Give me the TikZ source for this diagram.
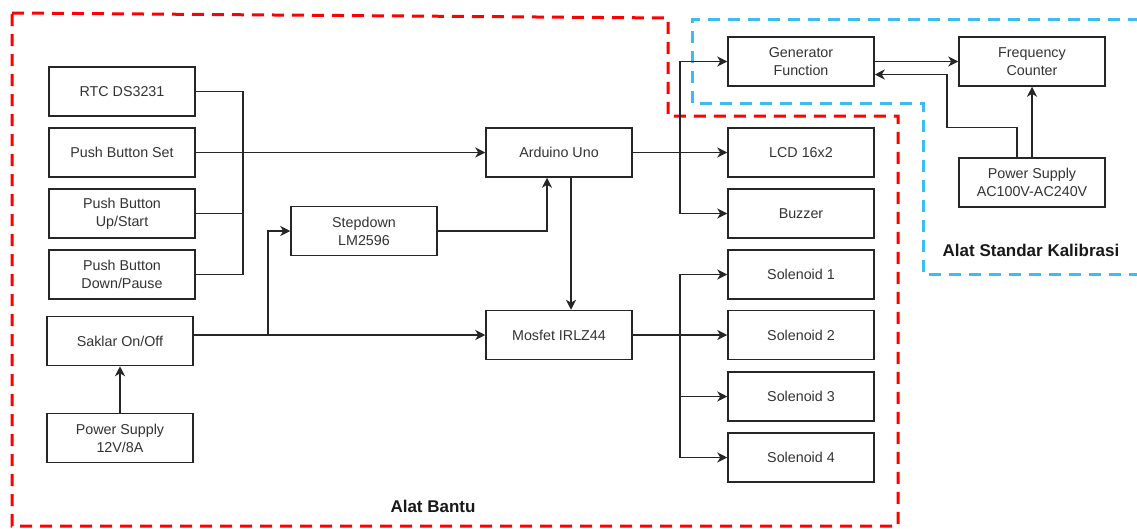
\documentclass[tikz,border=0pt]{standalone}
\usepackage{fontspec}
\setmainfont{Liberation Sans}
\usetikzlibrary{arrows.meta}
\definecolor{zonered}{HTML}{FF0000}
\definecolor{zoneblue}{HTML}{3CBDF0}

\begin{document}
\begin{tikzpicture}[x=1pt,y=-1pt,
    box/.style={draw=black!85,line width=1.5pt,fill=white,minimum width=146pt,minimum height=49pt,
        inner sep=0pt,align=center,text=black!80,font=\fontsize{14.3}{18}\selectfont},
    wire/.style={draw=black!85,line width=1.5pt},
    arr/.style={wire,-{Stealth[length=10pt,width=10pt,inset=3pt]}},
    zone/.style={line width=3pt,dash pattern=on 12pt off 8pt},
    zonelabel/.style={font=\fontsize{17}{20}\selectfont\bfseries,text=black!90}]
        \useasboundingbox (0,0) rectangle (1137,528);
        \draw[zone,zoneblue] (1140,19) -- (692,19) -- (692,103) -- (923,103) -- (923,274) -- (1140,274);
        \draw[zone,zonered] (12,13) -- (668,18) -- (668,116) -- (898,116) -- (898,526) -- (12,526) -- cycle;
        \node[box] (rtc) at (122,91.5) {RTC DS3231};
        \node[box] (pbset) at (122,152.5) {Push Button Set};
        \node[box] (pbup) at (122,213.5) {Push Button\\Up/Start};
        \node[box] (pbdown) at (122,274.5) {Push Button\\Down/Pause};
        \node[box] (saklar) at (120,341) {Saklar On/Off};
        \node[box] (psdc) at (120,438) {Power Supply\\12V/8A};
        \node[box] (stepdown) at (364,231) {Stepdown\\LM2596};
        \node[box] (arduino) at (559,152.5) {Arduino Uno};
        \node[box] (mosfet) at (559,335) {Mosfet IRLZ44};
        \node[box] (genfunc) at (801,61.5) {Generator\\Function};
        \node[box] (freqcount) at (1032,61.5) {Frequency\\Counter};
        \node[box] (lcd) at (801,152.5) {LCD 16x2};
        \node[box] (buzzer) at (801,213.5) {Buzzer};
        \node[box] (psac) at (1032,182.5) {Power Supply\\AC100V-AC240V};
        \node[box] (sol1) at (801,274.5) {Solenoid 1};
        \node[box] (sol2) at (801,335) {Solenoid 2};
        \node[box] (sol3) at (801,396.5) {Solenoid 3};
        \node[box] (sol4) at (801,457.5) {Solenoid 4};
        \node[zonelabel] (bantu) at (433,506) {Alat Bantu};
        \node[zonelabel] (kalibrasi) at (1031,250) {Alat Standar Kalibrasi};
        \coordinate (bus) at (243,213.5);
        \coordinate (dcsplit) at (268,335);
        \coordinate (lcdsplit) at (680,152.5);
        \coordinate (solsplit) at (680,335);
        \draw[wire] (rtc.east) -| (bus);
        \draw[wire] (pbdown.east) -| (bus);
        \draw[wire] (pbup.east) -- (bus);
        \draw[arr] (pbset.east) -- (arduino.west);
        \draw[arr] (psdc) -- (saklar);
        \draw[arr] (saklar.east |- mosfet.west) -- (mosfet.west);
        \draw[arr] (dcsplit) |- (stepdown.west);
        \draw[arr] (stepdown.east) -| ([xshift=-12pt]arduino.south);
        \draw[arr] ([xshift=12pt]arduino.south) -- ([xshift=12pt]mosfet.north);
        \draw[arr] (arduino.east) -- (lcd.west);
        \draw[arr] (lcdsplit) |- (genfunc.west);
        \draw[arr] (lcdsplit) |- (buzzer.west);
        \draw[arr] (mosfet.east) -- (sol2.west);
        \draw[arr] (solsplit) |- (sol1.west);
        \draw[arr] (solsplit) |- (sol3.west);
        \draw[arr] (solsplit) |- (sol4.west);
        \draw[arr] (genfunc.east) -- (freqcount.west);
        \draw[arr] (psac.north) -- (freqcount.south);
        \draw[arr] ([xshift=-15pt]psac.north) |- ++(-70,-30) |- ([yshift=-13pt]genfunc.east);
    \end{tikzpicture}
\end{document}
